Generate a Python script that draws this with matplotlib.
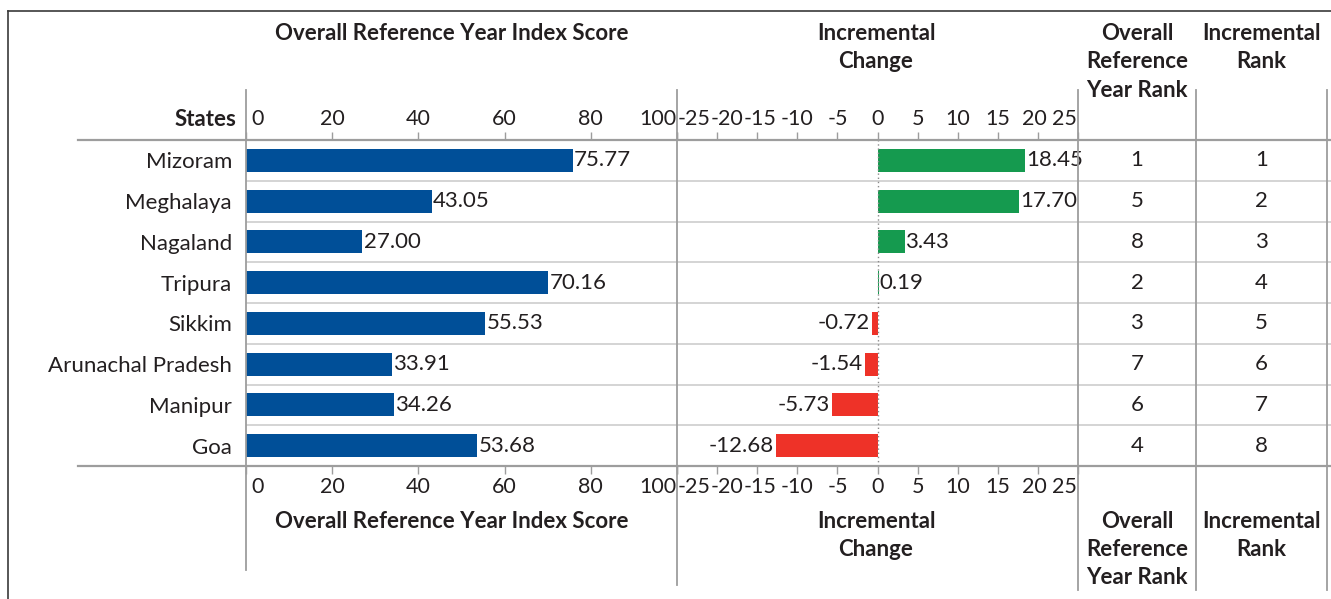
import matplotlib
matplotlib.use("Agg")
import matplotlib.pyplot as plt
from matplotlib.lines import Line2D
from matplotlib.transforms import ScaledTranslation

plt.rcParams['font.family'] = ['Lato', 'DejaVu Sans']
plt.rcParams['axes.unicode_minus'] = False

# data
states = ['Mizoram', 'Meghalaya', 'Nagaland', 'Tripura', 'Sikkim',
          'Arunachal Pradesh', 'Manipur', 'Goa']
score = [75.77, 43.05, 27.00, 70.16, 55.53, 33.91, 34.26, 53.68]
change = [18.45, 17.70, 3.43, 0.19, -0.72, -1.54, -5.73, -12.68]
score_rank = [1, 5, 8, 2, 3, 7, 6, 4]
change_rank = [1, 2, 3, 4, 5, 6, 7, 8]
score_ticks = [0, 20, 40, 60, 80, 100]
change_ticks = [-25, -20, -15, -10, -5, 0, 5, 10, 15, 20, 25]

W, H = 1331, 599
TXT = '#231f20'
GRID = '#9d9d9d'
ROWLINE = '#cdcdcd'
BLUE = '#004f98'
GREEN = '#159a4f'
RED = '#ee3228'
FS = 16
TFS = 15.5
HFS = 16
HW = 'bold'

fig = plt.figure(figsize=(W / 100, H / 100), dpi=100)


def box(x0, x1, y0=140, y1=466):
    return [x0 / W, 1 - y1 / H, (x1 - x0) / W, (y1 - y0) / H]


def line(x0, y0, x1, y1, color=GRID, lw=1.3, **kw):
    fig.add_artist(Line2D([x0 / W, x1 / W], [1 - y0 / H, 1 - y1 / H],
                          transform=fig.transFigure, color=color, lw=lw, **kw))


def text(x, y, s, **kw):
    fig.text(x / W, 1 - y / H, s, color=TXT, fontsize=HFS, ha='center',
             va='center', **kw)


ax1 = fig.add_axes(box(246, 677))
ax2 = fig.add_axes(box(677, 1078))
ax3 = fig.add_axes(box(1078, 1331))

n = len(states)
ypos = list(range(n))

for ax in (ax1, ax2, ax3):
    ax.set_ylim(n - 0.5, -0.5)
    ax.set_facecolor('none')
    for s in ax.spines.values():
        s.set_visible(False)
    for i in range(n - 1):
        ax.axhline(i + 0.5, color=ROWLINE, lw=1.2, zorder=0)
    ax.tick_params(axis='x', which='both', direction='out', length=6,
                   width=1, color=GRID, labelcolor=TXT, labelsize=TFS, pad=2,
                   top=True, labeltop=True, bottom=True, labelbottom=True)

# left panel: overall score
ax1.barh(ypos, score, height=0.56, color=BLUE, zorder=2)
for y, v in zip(ypos, score):
    ax1.text(v + 0.3, y, f'{v:.2f}', ha='left', va='center', color=TXT,
             fontsize=FS)
ax1.set_xlim(0, 100)
ax1.set_xticks(score_ticks)
ax1.set_xticklabels([str(t) for t in score_ticks])
ax1.set_yticks(ypos)
ax1.set_yticklabels(states)
ax1.tick_params(axis='y', length=0, pad=10, labelsize=FS, labelcolor=TXT)

# middle panel: incremental change
cols = [GREEN if v >= 0 else RED for v in change]
ax2.barh(ypos, change, height=0.56, color=cols, zorder=2)
ax2.axvline(0, color='#8a8a8a', lw=1, ls=(0, (1, 2)), zorder=3)
for y, v in zip(ypos, change):
    if v >= 0:
        ax2.text(v + 0.05, y, f'{v:.2f}', ha='left', va='center', color=TXT,
                 fontsize=FS, clip_on=False)
    else:
        ax2.text(v - 0.25, y, f'{v:.2f}', ha='right', va='center', color=TXT,
                 fontsize=FS)
ax2.set_xlim(-25, 25)
ax2.set_xticks(change_ticks)
ax2.set_xticklabels([str(t) for t in change_ticks])
ax2.set_yticks([])

# rank columns
ax3.set_xlim(0, 1)
ax3.set_xticks([])
ax3.set_yticks([])
for y, r1, r2 in zip(ypos, score_rank, change_rank):
    ax3.text(0.233, y, str(r1), ha='center', va='center', color=TXT, fontsize=FS)
    ax3.text(0.725, y, str(r2), ha='center', va='center', color=TXT, fontsize=FS)


# nudge crowded edge tick labels like the original
def nudge(ax, shifts, aligns):
    for tick, dx, ha in zip(ax.xaxis.get_major_ticks(), shifts, aligns):
        for lab in (tick.label1, tick.label2):
            lab.set_horizontalalignment(ha)
            lab.set_transform(lab.get_transform() +
                              ScaledTranslation(dx / 100, 0, fig.dpi_scale_trans))


nudge(ax1, [5, 0, 0, 0, 0, -1], ['left', 'center', 'center', 'center', 'center', 'right'])
nudge(ax2, [1, 10, 3, 0, 0, 0, 0, 0, 0, -4, -1],
      ['left'] + ['center'] * 9 + ['right'])

# frame and table lines
line(8, 11, W, 11, color='#3a3a3a', lw=1.2)
line(8, 11, 8, H, color='#3a3a3a', lw=1.2)
line(78, 140, W, 140, lw=1.6)
line(78, 466, W, 466, lw=1.6)
line(246, 90, 246, 570)
line(677, 90, 677, 585)
line(1078, 90, 1078, 590)
line(1196, 90, 1196, 590)
line(1327, 90, 1327, 590)

# headers (top and bottom)
text(452, 33, 'Overall Reference Year Index Score', fontweight=HW)
text(452, 521, 'Overall Reference Year Index Score', fontweight=HW)
for y0 in (33, 521):
    text(876, y0, 'Incremental', fontweight=HW)
    text(876, y0 + 29, 'Change', fontweight=HW)
    text(1137, y0, 'Overall', fontweight=HW)
    text(1137, y0 + 28.5, 'Reference', fontweight=HW)
    text(1137, y0 + 57, 'Year Rank', fontweight=HW)
    text(1261, y0, 'Incremental', fontweight=HW)
    text(1261, y0 + 29, 'Rank', fontweight=HW)
fig.text(236 / W, 1 - 120 / H, 'States', color=TXT, fontsize=HFS,
         fontweight=HW, ha='right', va='center')

fig.savefig('out.png', dpi=100)
